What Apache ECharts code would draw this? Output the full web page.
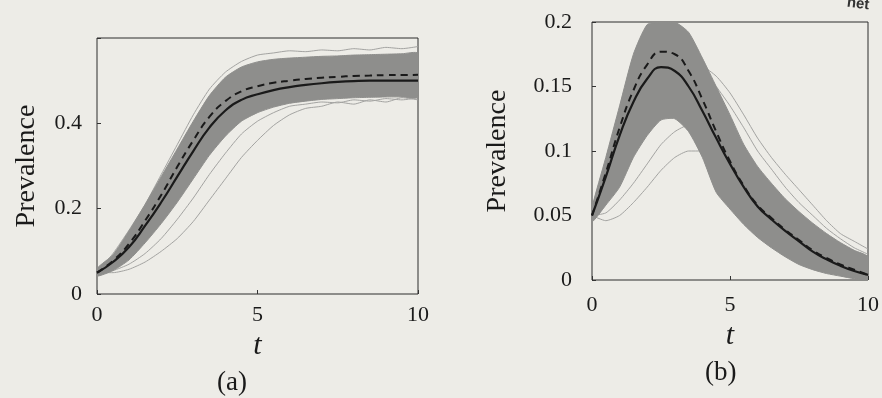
<!DOCTYPE html>
<html>
<head>
<meta charset="utf-8">
<script src="https://cdn.jsdelivr.net/npm/echarts@6/dist/echarts.min.js"></script>
<style>
  html, body { margin: 0; padding: 0; background: #edece7; }
  #chart { width: 882px; height: 398px; }
</style>
</head>
<body>
<div id="chart"></div>
<script>
// time grid shared by both panels
const tValues = [0, 0.5, 1, 1.5, 2, 2.5, 3, 3.5, 4, 4.5, 5, 5.5, 6, 6.5, 7, 7.5, 8, 8.5, 9, 9.5, 10]
const xTicks = [0, 5, 10]

// panel (a)
const solidA  = [0.05, 0.075, 0.11, 0.16, 0.215, 0.275, 0.335, 0.39, 0.43, 0.455, 0.468, 0.478, 0.485, 0.49, 0.494, 0.497, 0.499, 0.5, 0.5, 0.5, 0.5]
const dashedA = [0.05, 0.078, 0.118, 0.172, 0.232, 0.298, 0.36, 0.415, 0.452, 0.475, 0.487, 0.495, 0.5, 0.504, 0.507, 0.509, 0.511, 0.512, 0.513, 0.513, 0.514]
const bandHighA = [0.06, 0.092, 0.148, 0.21, 0.275, 0.34, 0.405, 0.465, 0.508, 0.532, 0.544, 0.55, 0.553, 0.555, 0.557, 0.558, 0.56, 0.561, 0.562, 0.563, 0.564]
const bandLowA  = [0.042, 0.055, 0.08, 0.12, 0.165, 0.215, 0.27, 0.325, 0.37, 0.405, 0.425, 0.438, 0.447, 0.452, 0.456, 0.458, 0.46, 0.461, 0.462, 0.462, 0.462]
const tracesA = [
  [0.05, 0.05, 0.058, 0.075, 0.1, 0.13, 0.17, 0.22, 0.27, 0.32, 0.36, 0.395, 0.42, 0.435, 0.44, 0.45, 0.445, 0.455, 0.45, 0.46, 0.455],
  [0.05, 0.055, 0.07, 0.095, 0.13, 0.175, 0.225, 0.28, 0.33, 0.375, 0.405, 0.425, 0.44, 0.445, 0.45, 0.448, 0.455, 0.452, 0.458, 0.455, 0.46],
  [0.05, 0.095, 0.15, 0.21, 0.28, 0.35, 0.42, 0.48, 0.52, 0.545, 0.56, 0.565, 0.57, 0.568, 0.572, 0.57, 0.575, 0.572, 0.578, 0.575, 0.58],
]
const yTicksA = [0, 0.2, 0.4]

// panel (b)
const solidB  = [0.05, 0.08, 0.112, 0.138, 0.156, 0.165, 0.162, 0.15, 0.131, 0.11, 0.09, 0.072, 0.057, 0.047, 0.038, 0.03, 0.022, 0.016, 0.011, 0.007, 0.004]
const dashedB = [0.05, 0.083, 0.118, 0.147, 0.167, 0.177, 0.175, 0.162, 0.14, 0.115, 0.092, 0.073, 0.058, 0.048, 0.039, 0.031, 0.023, 0.017, 0.012, 0.008, 0.004]
const bandHighB = [0.056, 0.095, 0.135, 0.175, 0.198, 0.2, 0.2, 0.192, 0.172, 0.15, 0.128, 0.105, 0.088, 0.075, 0.063, 0.053, 0.044, 0.036, 0.029, 0.023, 0.018]
const bandLowB  = [0.045, 0.058, 0.072, 0.095, 0.112, 0.124, 0.125, 0.115, 0.095, 0.068, 0.055, 0.043, 0.033, 0.025, 0.018, 0.012, 0.008, 0.005, 0.003, 0.001, 0]
const tracesB = [
  [0.05, 0.046, 0.05, 0.06, 0.072, 0.085, 0.095, 0.1, 0.1, 0.095, 0.085, 0.074, 0.062, 0.05, 0.04, 0.031, 0.024, 0.017, 0.012, 0.008, 0.005],
  [0.05, 0.052, 0.062, 0.075, 0.09, 0.105, 0.115, 0.12, 0.117, 0.108, 0.095, 0.08, 0.066, 0.053, 0.042, 0.032, 0.024, 0.018, 0.012, 0.008, 0.005],
  [0.05, 0.07, 0.092, 0.115, 0.135, 0.15, 0.16, 0.165, 0.165, 0.158, 0.145, 0.128, 0.11, 0.095, 0.082, 0.07, 0.058, 0.046, 0.036, 0.03, 0.024],
  [0.05, 0.075, 0.1, 0.125, 0.145, 0.16, 0.168, 0.17, 0.163, 0.15, 0.135, 0.118, 0.1, 0.086, 0.072, 0.06, 0.05, 0.04, 0.032, 0.025, 0.02],
]
const yTicksB = [0, 0.05, 0.1, 0.15, 0.2]

const SERIF = '"Liberation Serif", "DejaVu Serif", serif'
const INK = '#1a1a1a'
const BAND = '#8e8e8c'
const TRACE = '#a3a3a1'

const pairs = (ys) => tValues.map((t, i) => [t, ys[i]])

// gray envelope drawn as one polygon through the axis scales
function bandSeries(idx, low, high) {
  return {
    type: 'custom',
    xAxisIndex: idx,
    yAxisIndex: idx,
    z: 2,
    clip: true,
    data: [0],
    renderItem(params, api) {
      const top = tValues.map((t, i) => api.coord([t, high[i]]))
      const bot = tValues.map((t, i) => api.coord([t, low[i]])).reverse()
      return {
        type: 'polygon',
        shape: { points: top.concat(bot), smooth: 0.2 },
        style: { fill: BAND, stroke: BAND, lineWidth: 1 },
      }
    },
  }
}

function lineSeries(idx, ys, style) {
  return {
    type: 'line',
    xAxisIndex: idx,
    yAxisIndex: idx,
    data: pairs(ys),
    showSymbol: false,
    smooth: true,
    silent: true,
    animation: false,
    ...style,
  }
}

function xAxisCfg(idx, margin) {
  return {
    type: 'value',
    gridIndex: idx,
    min: 0,
    max: 10,
    interval: 5,
    name: 't',
    nameLocation: 'middle',
    nameGap: 27,
    nameTextStyle: { fontFamily: SERIF, fontStyle: 'italic', fontSize: 30, color: INK },
    axisLine: { show: false },
    axisTick: { inside: true, length: 4, lineStyle: { color: '#333' } },
    axisLabel: {
      margin,
      fontFamily: SERIF,
      fontSize: 22,
      color: INK,
      formatter: (v) => (xTicks.includes(v) ? String(v) : ''),
    },
    splitLine: { show: false },
  }
}

function yAxisCfg(idx, max, interval, ticks, margin, gap) {
  return {
    type: 'value',
    gridIndex: idx,
    min: 0,
    max,
    interval,
    name: 'Prevalence',
    nameLocation: 'middle',
    nameGap: gap,
    nameTextStyle: { fontFamily: SERIF, fontSize: 28, color: INK },
    axisLine: { show: false },
    axisTick: { inside: true, length: 4, lineStyle: { color: '#333' } },
    axisLabel: {
      margin,
      fontFamily: SERIF,
      fontSize: 22,
      color: INK,
      formatter: (v) => {
        const hit = ticks.find((k) => Math.abs(k - v) < 1e-9)
        return hit === undefined ? '' : String(hit)
      },
    },
    splitLine: { show: false },
  }
}

const chart = echarts.init(document.getElementById('chart'), null, { renderer: 'canvas' })

const gridStyle = { show: true, borderColor: '#2c2c2c', borderWidth: 1, backgroundColor: 'transparent' }

const series = []
;[[0, tracesA, bandLowA, bandHighA, solidA, dashedA], [1, tracesB, bandLowB, bandHighB, solidB, dashedB]].forEach(
  ([idx, traces, low, high, solid, dashed]) => {
    traces.forEach((tr) => {
      series.push(lineSeries(idx, tr, { z: 1, smooth: 0.2, lineStyle: { color: TRACE, width: 1 } }))
    })
    series.push(bandSeries(idx, low, high))
    series.push(lineSeries(idx, dashed, { z: 4, lineStyle: { color: INK, width: 2, type: [7, 5] } }))
    series.push(lineSeries(idx, solid, { z: 5, lineStyle: { color: INK, width: 2.2 } }))
  }
)

chart.setOption({
  backgroundColor: '#edece7',
  animation: false,
  grid: [
    { left: 97, right: 882 - 418, top: 38, bottom: 398 - 294, ...gridStyle },
    { left: 592, right: 5, top: 22, bottom: 398 - 280, ...gridStyle },
  ],
  xAxis: [xAxisCfg(0, 10), xAxisCfg(1, 14)],
  yAxis: [
    yAxisCfg(0, 0.6, 0.2, yTicksA, 15, 56),
    yAxisCfg(1, 0.2, 0.05, yTicksB, 20, 80),
  ],
  series,
  graphic: [
    { type: 'text', left: 217, top: 369, style: { text: '(a)', font: '27px "Liberation Serif", serif', fill: INK } },
    { type: 'text', left: 705, top: 359, style: { text: '(b)', font: '27px "Liberation Serif", serif', fill: INK } },
    { type: 'text', left: 846, top: -5, rotation: -0.12, style: { text: 'net', font: 'bold 15px "Liberation Sans", sans-serif', fill: '#333' } },
  ],
})
</script>
</body>
</html>
